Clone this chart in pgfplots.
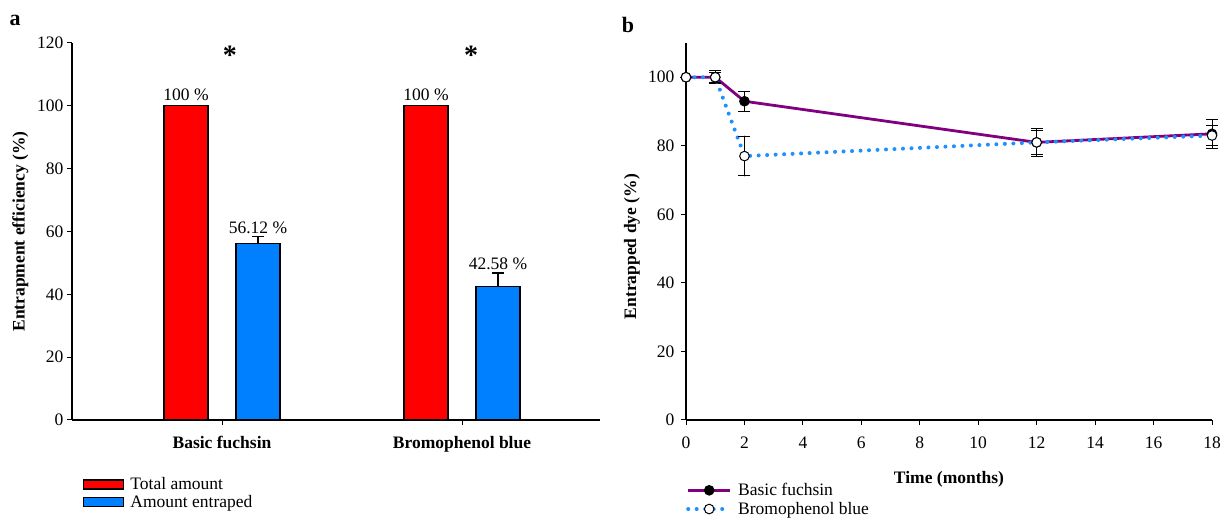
\documentclass[border=0pt]{standalone}
\usepackage{fontspec}
\setmainfont{Liberation Serif}
\usepackage{pgfplots}
\pgfplotsset{compat=1.18}
\definecolor{barred}{RGB}{255,0,0}
\definecolor{barblue}{RGB}{0,128,255}
\definecolor{fuchsin}{RGB}{128,0,128}
\definecolor{bromo}{RGB}{30,144,255}

\pgfplotsset{
  panel/.style={
    scale only axis,
    axis lines*=left,
    axis line style={-, line width=1.2pt},
    tick align=outside,
    major tick length=5pt,
    tick style={black, line width=1pt},
    /pgf/number format/assume math mode=true,
    ticklabel style={font=\fontsize{17.5}{21}\selectfont},
    xticklabel style={yshift=-8pt},
    label style={font=\fontsize{17.5}{21}\selectfont\bfseries},
    legend style={draw=none, fill=none, font=\fontsize{17.5}{21}\selectfont,
      anchor=north west, inner sep=0pt, row sep=1pt,
      nodes={inner ysep=1pt, inner xsep=6pt}},
    legend cell align=left,
  },
}

\begin{document}
\begin{tikzpicture}[font=\fontsize{17.5}{21}\selectfont]
\path[use as bounding box] (0pt,0pt) rectangle (1221pt,518pt);

% panel a
\begin{axis}[panel,
  at={(72pt,98pt)}, anchor=south west,
  width=528pt, height=377pt,
  xmin=-0.625, xmax=1.575,
  ymin=0, ymax=120,
  xtick={0,1},
  xticklabels={\textbf{Basic fuchsin},\textbf{Bromophenol blue}},
  ytick={0,20,...,120},
  ylabel={Entrapment efficiency (\%)},
  ylabel style={at={(axis description cs:-0.098,0.5)}, anchor=center},
  ybar, bar width=0.183,
  legend style={at={(0.021,-0.15)}, row sep=2pt},
  clip=false,
]
\addplot[draw=black, line width=1.2pt, fill=barred, bar shift=-0.15,
  legend image code/.code={\draw[draw=black, line width=1.2pt, fill=barred] (0pt,-4.5pt) rectangle (40pt,4.5pt);}]
  coordinates {(0,100) (1,100)};
\addlegendentry{Total amount}
\addplot[draw=black, line width=1.2pt, fill=barblue, bar shift=0.15,
  error bars/.cd, y dir=plus, y explicit,
  error bar style={black, line width=1.2pt},
  error mark options={rotate=90, mark size=6pt, black, line width=1.2pt},
  /pgfplots/legend image code/.code={\draw[draw=black, line width=1.2pt, fill=barblue] (0pt,-4.5pt) rectangle (40pt,4.5pt);}]
  coordinates {(0,56.12) +- (0,2.2) (1,42.58) +- (0,4.2)};
\addlegendentry{Amount entraped}
\node[anchor=south, inner sep=5pt] at (axis cs:-0.15,100) {100 \%};
\node[anchor=south, inner sep=5pt] at (axis cs:1-0.15,100) {100 \%};
\node[anchor=south, inner sep=3pt] at (axis cs:0.15,58.3) {56.12 \%};
\node[anchor=south, inner sep=3pt] at (axis cs:1.15,46.8) {42.58 \%};
\node[font=\fontsize{28}{30}\selectfont\bfseries] at (axis cs:0.033,116) {*};
\node[font=\fontsize{28}{30}\selectfont\bfseries] at (axis cs:1.038,116) {*};
\end{axis}

% panel b
\begin{axis}[panel,
  at={(686pt,98pt)}, anchor=south west,
  width=526pt, height=377pt,
  xmin=0, xmax=18, ymin=0, ymax=110,
  xtick={0,2,...,18}, ytick={0,20,...,100},
  yticklabel style={xshift=-3pt},
  xlabel={Time (months)},
  ylabel={Entrapped dye (\%)},
  ylabel style={at={(axis description cs:-0.103,0.46)}, anchor=center},
  xlabel style={at={(axis description cs:0.5,-0.158)}, anchor=center},
  legend style={at={(0,-0.165)}, row sep=3pt},
  legend image code/.code={\draw[#1] (0pt,0pt) -- (42pt,0pt); \draw[#1, only marks] plot coordinates {(21pt,0pt)};},
  clip=false,
]
\addplot[fuchsin, line width=2.8pt, mark=*, mark size=4.8pt,
  mark options={fill=black, draw=black, line width=1pt, solid},
  error bars/.cd, y dir=both, y explicit,
  error bar style={black, line width=1pt, solid},
  error mark options={rotate=90, mark size=6pt, black, line width=1pt}]
  coordinates {(0,100) +- (0,0) (1,100) +- (0,1.9) (2,93) +- (0,2.9) (12,81) +- (0,4) (18,83.5) +- (0,4.2)};
\addlegendentry{Basic fuchsin}
\addplot[bromo, line width=4pt, line cap=round, dash pattern=on 0pt off 8.5pt,
  mark=*, mark size=4.8pt,
  mark options={fill=white, draw=black, line width=1pt, solid},
  error bars/.cd, y dir=both, y explicit,
  error bar style={black, line width=1pt, solid},
  error mark options={rotate=90, mark size=6pt, black, line width=1pt}]
  coordinates {(0,100) +- (0,0) (1,100) +- (0,1.5) (2,77) +- (0,5.8) (12,81) +- (0,3.5) (18,83) +- (0,3)};
\addlegendentry{Bromophenol blue}
\end{axis}

\node[font=\fontsize{22}{24}\selectfont\bfseries] at (15pt,498pt) {a};
\node[font=\fontsize{22}{24}\selectfont\bfseries] at (628pt,493pt) {b};
\end{tikzpicture}
\end{document}
